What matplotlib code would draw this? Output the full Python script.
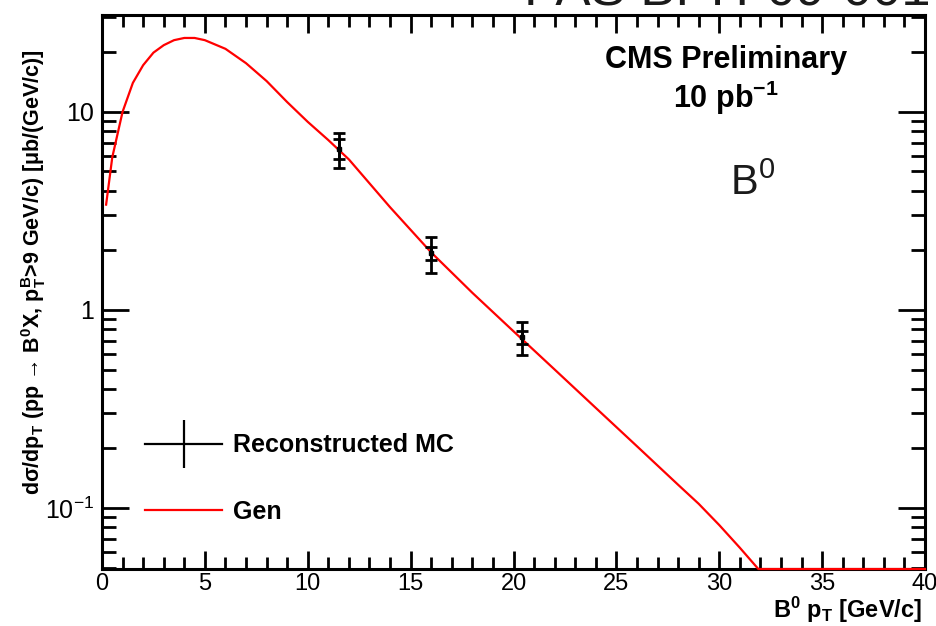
import matplotlib
matplotlib.use("Agg")
import matplotlib.pyplot as plt
from matplotlib.lines import Line2D
from matplotlib.ticker import FixedLocator, MultipleLocator, NullFormatter

plt.rcParams['font.family'] = ['Liberation Sans', 'DejaVu Sans']
plt.rcParams['mathtext.fontset'] = 'custom'
plt.rcParams['mathtext.rm'] = 'Liberation Sans'
plt.rcParams['mathtext.it'] = 'Liberation Sans:italic'
plt.rcParams['mathtext.bf'] = 'Liberation Sans:bold'

# ---- data ----
gen_pt = [0.2, 0.5, 1.0, 1.5, 2.0, 2.5, 3.0, 3.5, 4.0, 4.5, 5.0, 6.0, 7.0, 8.0,
          9.0, 10.0, 11.0, 12.0, 14.0, 16.0, 18.0, 20.0, 22.0, 24.0, 26.0,
          28.0, 29.0, 30.0, 31.0, 31.9, 34.0, 37.0, 40.0]
gen_val = [3.4, 5.9, 10.0, 14.0, 17.2, 19.9, 21.7, 23.0, 23.6, 23.6, 23.0,
           20.8, 17.6, 14.3, 11.2, 8.9, 7.2, 5.75, 3.3, 1.95, 1.22, 0.78,
           0.50, 0.32, 0.205, 0.131, 0.105, 0.082, 0.063, 0.0492, 0.0492,
           0.0492, 0.0492]

rec_pt = [11.5, 16.0, 20.4]
rec_val = [6.5, 1.93, 0.73]
rec_err_stat = [0.75, 0.14, 0.055]
rec_err_tot = [1.3, 0.40, 0.14]

ytick_vals = [0.1, 1, 10]
ytick_labels = ["$10^{-1}$", "1", "10"]
xtick_vals = [0, 5, 10, 15, 20, 25, 30, 35, 40]
xtick_labels = ["0", "5", "10", "15", "20", "25", "30", "35", "40"]

legend_labels = ["Reconstructed MC", "Gen"]

# ---- figure ----
fig = plt.figure(figsize=(9.37, 6.26), dpi=100)
ax = fig.add_axes([102/937, 57/626, 823/937, 554.5/626])

ax.plot(gen_pt, gen_val, color='#ff0000', lw=1.6, zorder=3, clip_on=False)

ax.errorbar(rec_pt, rec_val, yerr=rec_err_tot, fmt='none', ecolor='black',
            elinewidth=2.0, capsize=4, capthick=2.0, zorder=4)
ax.errorbar(rec_pt, rec_val, yerr=rec_err_stat, fmt='s', color='black',
            markersize=3.5, ecolor='black', elinewidth=2.0, capsize=4,
            capthick=2.0, zorder=5)

ax.set_yscale('log')
ax.set_xlim(0, 40)
ax.set_ylim(0.0492, 31.0)

ax.xaxis.set_major_locator(FixedLocator(xtick_vals))
ax.set_xticklabels(xtick_labels)
ax.xaxis.set_minor_locator(MultipleLocator(1))
ax.yaxis.set_major_locator(FixedLocator(ytick_vals))
ax.set_yticklabels(ytick_labels)
ax.yaxis.set_minor_formatter(NullFormatter())

ax.tick_params(axis='both', which='both', direction='in', top=True,
               right=True, width=2.0, labelsize=18)
ax.tick_params(axis='x', which='major', length=13, pad=3, labelsize=17)
ax.tick_params(axis='x', which='minor', length=8.5)
ax.tick_params(axis='y', which='major', length=19.5, pad=6)
ax.tick_params(axis='y', which='minor', length=10)
for sp in ax.spines.values():
    sp.set_linewidth(2.2)

# axis labels
fig.text(922/937, 8/626, r"B$^{\mathbf{0}}$ p$_{\mathbf{T}}$ [GeV/c]",
         ha='right', va='baseline', fontsize=17, fontweight='bold')
fig.text(34/937, (626-272)/626,
         "d\u03c3/dp$_{\\mathbf{T}}$ (pp \u2192 B$^{\\mathbf{0}}$X, p$_{\\mathbf{T}}^{\\mathbf{B}}$>9 GeV/c) [\u03bcb/(GeV/c)]",
         rotation=90, ha='center', va='center', fontsize=15.5, fontweight='bold',
         family=['Liberation Sans', 'DejaVu Sans'])

# annotations
ax.text(0.758, 0.918, "CMS Preliminary", transform=ax.transAxes,
        ha='center', va='center', fontsize=22, fontweight='bold')
ax.text(0.758, 0.849, r"10 pb$^{\mathbf{-1}}$", transform=ax.transAxes,
        ha='center', va='center', fontsize=22, fontweight='bold')
ax.text(0.763, 0.6745, r"B$^0$", transform=ax.transAxes,
        ha='left', va='baseline', fontsize=30, color='#1a1a1a')

fig.text(0.993, (626-6)/626, "PAS BPH-09-001", ha='right', va='baseline',
         fontsize=38, color='#1a1a1a')

# legend
handles = [
    Line2D([], [], color='black', lw=1.6, marker='|', markersize=34, mew=1.6),
    Line2D([], [], color='#ff0000', lw=1.6),
]
leg = ax.legend(handles, legend_labels, loc='center left',
                bbox_to_anchor=((145-102)/823, (569-478.5)/554.5),
                frameon=False, fontsize=18, handlelength=3.08,
                handletextpad=0.44, labelspacing=1.7, borderpad=0,
                borderaxespad=0, numpoints=1)
for t in leg.get_texts():
    t.set_fontweight('bold')

fig.savefig("out.png", dpi=100)
